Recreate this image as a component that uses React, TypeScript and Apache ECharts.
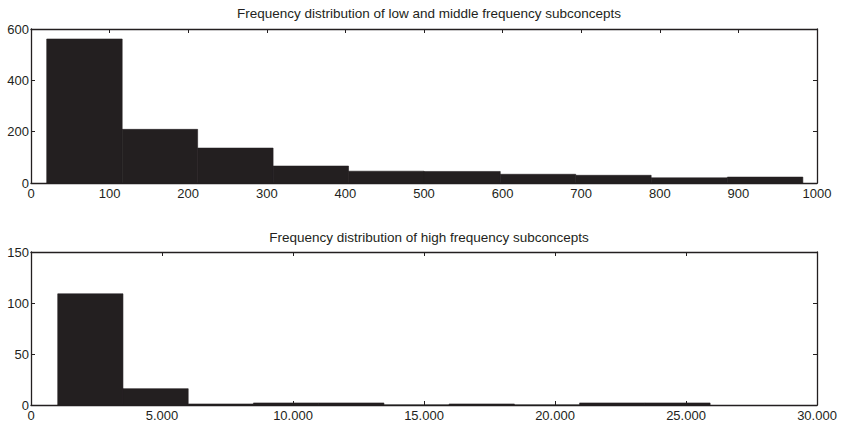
import React, { useEffect, useRef } from "react";
import * as echarts from "echarts";

// Top histogram: low & middle frequency subconcepts
const lowBinEdges = [20, 116, 212, 308, 404, 500, 597, 693, 789, 886, 982];
const lowCounts = [561, 209, 136, 66, 46, 45, 34, 30, 20, 23];
const lowXTicks = [0, 100, 200, 300, 400, 500, 600, 700, 800, 900, 1000];
const lowYTicks = [0, 200, 400, 600];

// Bottom histogram: high frequency subconcepts
const highBinEdges = [1020, 3510, 6000, 8490, 10980, 13470, 15960, 18450, 20940, 23430, 25920];
const highCounts = [109, 16, 1, 2, 2, 0, 1, 0, 2, 2];
const highXTicks = [0, 5000, 10000, 15000, 20000, 25000, 30000];
const highYTicks = [0, 50, 100, 150];

const titles = [
  "Frequency distribution of low and middle frequency subconcepts",
  "Frequency distribution of high frequency subconcepts",
];

const FONT = "Liberation Sans, Arial, Helvetica, sans-serif";

function binsToData(edges: number[], counts: number[]) {
  return counts.map((c, i) => [edges[i], edges[i + 1], c]);
}

function fmtThousands(v: number) {
  return String(v).replace(/\B(?=(\d{3})+(?!\d))/g, ".");
}

export default function App() {
  const ref = useRef<HTMLDivElement>(null);
  useEffect(() => {
    if (!ref.current) return;
    const chart = echarts.init(ref.current, undefined, { renderer: "svg" });
    const grids = [
      { left: 31, right: 24, top: 29, height: 154 },
      { left: 31, right: 24, top: 252, height: 153 },
    ];
    const axisLine = { show: true, onZero: false, lineStyle: { color: "#231f20", width: 1.3 } };
    const tick = { show: true, inside: true, length: 4, lineStyle: { color: "#231f20", width: 1 } };
    const label = { color: "#231f20", fontSize: 13, fontFamily: FONT };
    const xSpec = [
      { min: lowXTicks[0], max: lowXTicks[lowXTicks.length - 1], interval: lowXTicks[1] - lowXTicks[0], fmt: (v: number) => String(v) },
      { min: highXTicks[0], max: highXTicks[highXTicks.length - 1], interval: highXTicks[1] - highXTicks[0], fmt: fmtThousands },
    ];
    const ySpec = [
      { min: lowYTicks[0], max: lowYTicks[lowYTicks.length - 1], interval: lowYTicks[1] - lowYTicks[0] },
      { min: highYTicks[0], max: highYTicks[highYTicks.length - 1], interval: highYTicks[1] - highYTicks[0] },
    ];
    const xAxis: any[] = [];
    const yAxis: any[] = [];
    [0, 1].forEach((g) => {
      xAxis.push({
        type: "value", gridIndex: g, position: "bottom", min: xSpec[g].min, max: xSpec[g].max,
        interval: xSpec[g].interval, splitLine: { show: false }, axisLine, axisTick: tick,
        axisLabel: { ...label, margin: 4, formatter: xSpec[g].fmt, showMinLabel: true, showMaxLabel: true },
      });
      xAxis.push({
        type: "value", gridIndex: g, position: "top", min: xSpec[g].min, max: xSpec[g].max,
        interval: xSpec[g].interval, splitLine: { show: false }, axisLine, axisTick: tick,
        axisLabel: { show: false },
      });
      yAxis.push({
        type: "value", gridIndex: g, position: "left", min: ySpec[g].min, max: ySpec[g].max,
        interval: ySpec[g].interval, splitLine: { show: false }, axisLine, axisTick: tick,
        axisLabel: { ...label, margin: 2 },
      });
      yAxis.push({
        type: "value", gridIndex: g, position: "right", min: ySpec[g].min, max: ySpec[g].max,
        interval: ySpec[g].interval, splitLine: { show: false }, axisLine, axisTick: tick,
        axisLabel: { show: false },
      });
    });
    const renderItem = (params: any, api: any) => {
      const p0 = api.coord([api.value(0), 0]);
      const p1 = api.coord([api.value(1), api.value(2)]);
      return {
        type: "rect",
        shape: { x: p0[0], y: p1[1], width: p1[0] - p0[0], height: p0[1] - p1[1] },
        style: { fill: "#231f20", stroke: "#231f20", lineWidth: 0.6 },
      };
    };
    chart.setOption({
      animation: false,
      backgroundColor: "#ffffff",
      title: titles.map((t, i) => ({
        text: t,
        left: 424,
        textAlign: "center",
        top: i === 0 ? 1 : 225,
        textStyle: { fontSize: 13.5, fontWeight: "normal", color: "#231f20", fontFamily: FONT },
      })),
      grid: grids,
      xAxis,
      yAxis,
      series: [
        {
          type: "custom", xAxisIndex: 0, yAxisIndex: 0, renderItem,
          encode: { x: [0, 1], y: 2 }, data: binsToData(lowBinEdges, lowCounts), z: 1,
        },
        {
          type: "custom", xAxisIndex: 2, yAxisIndex: 2, renderItem,
          encode: { x: [0, 1], y: 2 }, data: binsToData(highBinEdges, highCounts), z: 1,
        },
      ],
    });
    return () => chart.dispose();
  }, []);
  return <div ref={ref} style={{ width: 841, height: 426, position: "absolute", left: 0, top: 0 }} />;
}
